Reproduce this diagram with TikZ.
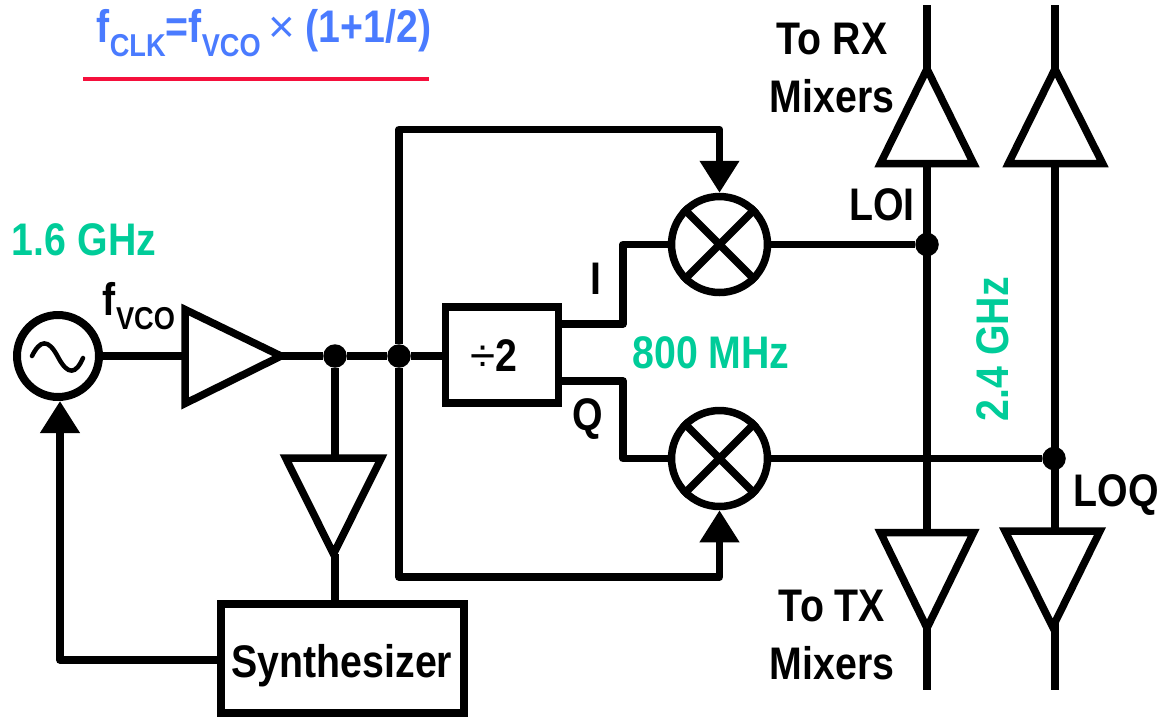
\documentclass[tikz,border=0pt]{standalone}
\usepackage{fontspec}
\setmainfont[FakeStretch=0.86]{Liberation Sans}
\newfontfamily\widefont{Liberation Sans}
\usetikzlibrary{arrows.meta}
\definecolor{freqgreen}{HTML}{00CC99}
\definecolor{eqblue}{HTML}{4A7BFF}
\definecolor{eqred}{HTML}{F5103C}
\newcommand{\lowtxt}[1]{\raisebox{-0.31em}{\fontsize{18}{18}\selectfont #1}}
\tikzset{
  wire/.style={line width=0.15cm,line join=round},
  feed/.style={line width=0.15cm,line join=round,-{Triangle[length=0.64cm,width=0.76cm]}},
  amp/.style={line width=0.15cm,miter limit=10,fill=white},
  blockbox/.style={draw,line width=0.15cm,inner sep=0pt},
  mixer/.style={draw,circle,line width=0.15cm,minimum size=1.92cm,inner sep=0pt},
  vco/.style={draw,circle,line width=0.16cm,minimum size=1.64cm,inner sep=0pt},
  dotnode/.style={fill,circle,minimum size=0.47cm,inner sep=0pt},
  lbl/.style={font=\fontsize{26}{26}\selectfont\bfseries,inner sep=0pt},
  freq/.style={lbl,text=freqgreen},
}
\begin{document}
\begin{tikzpicture}[x=0.02cm,y=-0.02cm]
    \useasboundingbox (0,0) rectangle (1158,718);

    % source and first amplifier
    \node[vco] (vco) at (58,356) {};
    \draw[line width=0.09cm,line cap=round] (32,356) .. controls (40,340) and (48,338) .. (58,357) .. controls (68,376) and (76,374) .. (83,358);
    \coordinate (ampin) at (185,356);
    \coordinate (ampout) at (281,356);
    \node[dotnode] (tapA) at (335,356) {};
    \node[dotnode] (tapB) at (399,356) {};
    \node[blockbox,minimum width=2.26cm,minimum height=1.92cm] (div) at (502,355) {};
    \node[lbl] at (494,356) {{\widefont\mdseries ÷}2};

    % mixers
    \node[mixer] (mixI) at (719.5,244.5) {};
    \node[mixer] (mixQ) at (719.5,458.5) {};
    \draw[wire] (mixI.45) -- (mixI.225) (mixI.135) -- (mixI.315);
    \draw[wire] (mixQ.45) -- (mixQ.225) (mixQ.135) -- (mixQ.315);

    % output rails
    \coordinate (railAtop) at (927,5);
    \coordinate (railAbot) at (927,690);
    \coordinate (railBtop) at (1055,5);
    \coordinate (railBbot) at (1055,690);
    \draw[wire] (railAtop) -- (railAbot);
    \draw[wire] (railBtop) -- (railBbot);
    \node[dotnode] (loI) at (927,244.5) {};
    \node[dotnode] (loQ) at (1054,458.5) {};

    % synthesizer loop
    \node[blockbox,minimum width=4.86cm,minimum height=2.18cm] (synth) at (342.5,658.5) {};
    \coordinate (bufin) at (335,458);
    \coordinate (bufout) at (335,554);
    \coordinate (loopcorner) at (60,660);
    \coordinate (synthleft) at (221,660);
    \draw[wire] (vco) -- (ampin);
    \draw[wire] (ampout) -- (tapA) -- (tapB) -- (tapB -| div.west);
    \draw[wire] (tapA) -- (bufin);
    \draw[wire] (bufout) -- (bufout |- synth.north);
    \draw[feed] (synthleft) -- (loopcorner) -- (loopcorner |- vco.south);

    % clock paths round the divider
    \coordinate (topleft) at (399,129.5);
    \coordinate (botleft) at (399,577);
    \draw[feed] (tapB) -- (topleft) -- (topleft -| mixI.north) -- (mixI.north);
    \draw[feed] (tapB) -- (botleft) -- (botleft -| mixQ.south) -- (mixQ.south);
    \coordinate (divI) at (556,324);
    \coordinate (divQ) at (556,381);
    \draw[wire] (divI) -- (623,324) -- (623,244.5) -- (mixI.west);
    \draw[wire] (divQ) -- (623,381) -- (623,458.5) -- (mixQ.west);
    \draw[wire] (mixI.east) -- (loI);
    \draw[wire] (mixQ.east) -- (loQ);

    % amplifiers
    \draw[amp] (ampin |- 0,309.5) -- (ampout) -- (ampin |- 0,403.5) -- cycle;
    \draw[amp] (285.7,458) -- (381.3,458) -- (333.5,554) -- cycle;
    \draw[amp] (880.4,163.5) -- (973.6,163.5) -- (927,69) -- cycle;
    \draw[amp] (1008.4,163.5) -- (1102.6,163.5) -- (1055,69) -- cycle;
    \draw[amp] (880.4,532.5) -- (973.6,532.5) -- (927,628) -- cycle;
    \draw[amp] (1005,531) -- (1100,531) -- (1052.7,627) -- cycle;

    % labels
    \node[lbl] at (342,666) {Synthesizer};
    \node[lbl] at (596,279) {I};
    \node[lbl] at (588,419) {Q};
    \node[lbl] at (882,205) {LOI};
    \node[lbl] at (1116,495) {LOQ};
    \node[lbl] at (832,39) {To RX};
    \node[lbl] at (832,96) {Mixers};
    \node[lbl] at (832,606) {To TX};
    \node[lbl] at (832,663) {Mixers};
    \node[lbl] at (139,306) {f\lowtxt{VCO}};
    \node[freq] at (84,240) {1.6 GHz};
    \node[freq] at (711,353) {800 MHz};
    \node[freq,rotate=90] at (993,349) {2.4 GHz};
    \node[lbl,text=eqblue] at (264,33) {f\lowtxt{CLK}=f\lowtxt{VCO}\kern-2pt{} {\widefont\mdseries ×} (1+1/2)};
    \draw[line width=0.08cm,eqred] (83,79) -- (429,79);
\end{tikzpicture}
\end{document}
